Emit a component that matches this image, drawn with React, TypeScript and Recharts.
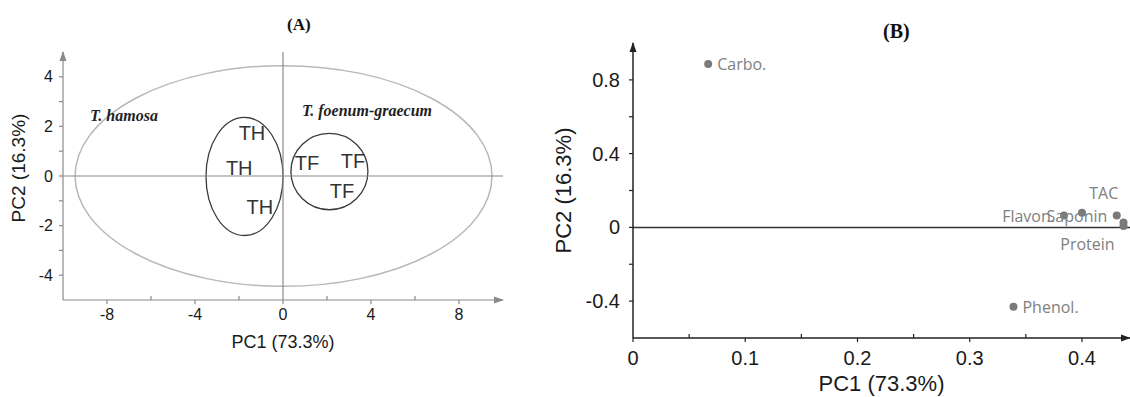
import React from 'react';
import {
  ScatterChart,
  Scatter,
  XAxis,
  YAxis,
  ReferenceLine,
  ReferenceArea,
  ReferenceDot,
} from 'recharts';

// ---------- Panel A data (PCA scores) ----------
const scoresTH = [
  { x: -1.41, y: 1.73, label: 'TH' },
  { x: -1.99, y: 0.32, label: 'TH' },
  { x: -1.05, y: -1.25, label: 'TH' },
];
const scoresTF = [
  { x: 1.09, y: 0.52, label: 'TF' },
  { x: 3.18, y: 0.6, label: 'TF' },
  { x: 2.68, y: -0.6, label: 'TF' },
];
const speciesLabels = [
  { x: -8.77, y: 2.42, label: 'T. hamosa' },
  { x: 0.86, y: 2.66, label: 'T. foenum-graecum' },
];
const ellipseAll = { x1: -9.45, x2: 9.5, y1: -4.45, y2: 4.45 };
const ellipseTH = { x1: -3.5, x2: 0.0, y1: -2.4, y2: 2.36 };
const ellipseTF = { x1: 0.36, x2: 3.86, y1: -1.36, y2: 1.72 };
const xDomainA = [-10, 10];
const yDomainA = [-5, 5];
const xTicksA = [-8, -6, -4, -2, 0, 2, 4, 6, 8];
const xLabelsA = [-8, -4, 0, 4, 8];
const yTicksA = [-4, -3, -2, -1, 0, 1, 2, 3, 4];
const yLabelsA = [-4, -2, 0, 2, 4];

// ---------- Panel B data (PCA loadings) ----------
const loadingNames = ['Carbo.', 'Phenol.', 'Flavon.', 'Saponin', 'TAC', 'Protein', ''];
const loadingPC1 = [0.067, 0.339, 0.384, 0.4, 0.431, 0.437, 0.437];
const loadingPC2 = [0.886, -0.43, 0.065, 0.08, 0.065, 0.027, 0.008];
const xDomainB = [0, 0.4428];
const yDomainB = [-0.6, 1.0];
const xTicksB = [0, 0.05, 0.1, 0.15, 0.2, 0.25, 0.3, 0.35, 0.4];
const xLabelsB = [0, 0.1, 0.2, 0.3, 0.4];
const yTicksB = [-0.4, -0.2, 0, 0.2, 0.4, 0.6, 0.8];
const yLabelsB = [-0.4, 0, 0.4, 0.8];

const loadings = loadingNames.map((name, i) => ({
  name,
  x: loadingPC1[i],
  y: loadingPC2[i],
}));

// label placement (style) for loadings
const labelPlacement: Record<string, { dx: number; dy: number; anchor: string }> = {
  'Carbo.': { dx: 9, dy: 0, anchor: 'start' },
  'Phenol.': { dx: 9, dy: 0, anchor: 'start' },
  'Flavon.': { dx: -9, dy: 1, anchor: 'end' },
  Saponin: { dx: -5, dy: 3, anchor: 'middle' },
  TAC: { dx: -13, dy: -22, anchor: 'middle' },
  Protein: { dx: -36, dy: 22, anchor: 'middle' },
  '': { dx: 0, dy: 0, anchor: 'start' },
};

const SANS = "Arial, 'Liberation Sans', sans-serif";
const SERIF = "'Times New Roman', 'Liberation Serif', serif";
const LABEL_SANS = "'Segoe UI', 'Open Sans', 'Noto Sans', sans-serif";

const isIn = (arr: number[], v: number) => arr.some((a) => Math.abs(a - v) < 1e-9);
const fmt = (v: number) => String(Number(v.toFixed(2)));

const makeXTick = (labels: number[], color: string, fontSize: number, dy: number) => (props: any) => {
  const { x, y, payload } = props;
  const v = payload.value;
  const major = isIn(labels, v);
  return (
    <g>
      <line x1={x} x2={x} y1={y} y2={y + (major ? 4 : -4)} stroke={color} strokeWidth={1.2} />
      {major && (
        <text x={x} y={y + dy} textAnchor="middle" fontFamily={SANS} fontSize={fontSize} fill="#1a1a1a">
          {fmt(v)}
        </text>
      )}
    </g>
  );
};

const makeYTick = (labels: number[], color: string, fontSize: number, gap: number) => (props: any) => {
  const { x, y, payload } = props;
  const v = payload.value;
  const major = isIn(labels, v);
  return (
    <g>
      <line x1={x} x2={x - 4} y1={y} y2={y} stroke={color} strokeWidth={1.2} />
      {major && (
        <text
          x={x - gap}
          y={y}
          textAnchor="end"
          dominantBaseline="central"
          fontFamily={SANS}
          fontSize={fontSize}
          fill="#1a1a1a"
        >
          {fmt(v)}
        </text>
      )}
    </g>
  );
};

const ellipseShape = (stroke: string, width: number) => (props: any) => {
  const { x, y, width: w, height: h } = props;
  return (
    <ellipse
      cx={x + w / 2}
      cy={y + h / 2}
      rx={Math.abs(w) / 2}
      ry={Math.abs(h) / 2}
      fill="none"
      stroke={stroke}
      strokeWidth={width}
    />
  );
};

const scoreText = (props: any) => (
  <text
    x={props.cx}
    y={props.cy}
    textAnchor="middle"
    dominantBaseline="central"
    fontFamily={SANS}
    fontSize={20}
    fill="#333"
  >
    {props.payload.label}
  </text>
);

const speciesText = (props: any) => (
  <text
    x={props.cx}
    y={props.cy}
    textAnchor="start"
    dominantBaseline="central"
    fontFamily={SERIF}
    fontStyle="italic"
    fontWeight="bold"
    fontSize={16}
    fill="#222"
  >
    {props.payload.label}
  </text>
);

const loadingDot = (props: any) => {
  const p = labelPlacement[props.payload.name] || { dx: 8, dy: 0, anchor: 'start' };
  return (
    <g>
      <circle cx={props.cx} cy={props.cy} r={4} fill="#7a7a7a" />
      {props.payload.name && (
        <text
          x={props.cx + p.dx}
          y={props.cy + p.dy}
          textAnchor={p.anchor as any}
          dominantBaseline="central"
          fontFamily={LABEL_SANS}
          fontSize={16}
          fill="#808080"
        >
          {props.payload.name}
        </text>
      )}
    </g>
  );
};

const arrowRight = (color: string) => (props: any) => (
  <path d={`M${props.cx + 1},${props.cy} l-10,-3.5 l0,7 z`} fill={color} />
);
const arrowUp = (color: string) => (props: any) => (
  <path d={`M${props.cx},${props.cy - 1} l-3.5,10 l7,0 z`} fill={color} />
);

export default function App() {
  const grayAxis = '#8a8a8a';
  const blackAxis = '#222';
  return (
    <div
      style={{
        position: 'absolute',
        left: 0,
        top: 0,
        width: 1130,
        height: 397,
        background: '#fff',
        overflow: 'hidden',
      }}
    >
      {/* Panel A */}
      <div style={{ position: 'absolute', left: 0, top: 0 }}>
        <ScatterChart width={540} height={397} margin={{ top: 52, right: 37, bottom: 37, left: 0 }}>
          <XAxis
            type="number"
            dataKey="x"
            domain={xDomainA}
            ticks={xTicksA}
            allowDataOverflow
            tickSize={0}
            tickMargin={0}
            height={60}
            axisLine={{ stroke: grayAxis, strokeWidth: 1.2 }}
            tickLine={false}
            tick={makeXTick(xLabelsA, grayAxis, 16, 20)}
            label={{
              content: (p: any) => {
                const vb = p.viewBox;
                return (
                  <text
                    x={vb.x + vb.width / 2}
                    y={vb.y + 48}
                    textAnchor="middle"
                    fontFamily={SANS}
                    fontSize={18}
                    fill="#1a1a1a"
                  >
                    PC1 (73.3%)
                  </text>
                );
              },
            }}
          />
          <YAxis
            type="number"
            dataKey="y"
            domain={yDomainA}
            ticks={yTicksA}
            allowDataOverflow
            tickSize={0}
            tickMargin={0}
            width={63}
            axisLine={{ stroke: grayAxis, strokeWidth: 1.2 }}
            tickLine={false}
            tick={makeYTick(yLabelsA, grayAxis, 16, 10)}
            label={{
              content: (p: any) => {
                const vb = p.viewBox;
                const cx = vb.x + 18;
                const cy = vb.y + vb.height / 2 - 8;
                return (
                  <text
                    x={cx}
                    y={cy}
                    transform={`rotate(-90, ${cx}, ${cy})`}
                    textAnchor="middle"
                    dominantBaseline="central"
                    fontFamily={SANS}
                    fontSize={19}
                    fill="#1a1a1a"
                  >
                    PC2 (16.3%)
                  </text>
                );
              },
            }}
          />
          <ReferenceLine x={0} stroke="#8a8a8a" strokeWidth={1.2} />
          <ReferenceLine y={0} stroke="#8a8a8a" strokeWidth={1.2} />
          <ReferenceArea {...ellipseAll} shape={ellipseShape('#b8b8b8', 1.5)} ifOverflow="visible" />
          <ReferenceArea {...ellipseTH} shape={ellipseShape('#3a3a3a', 1.3)} ifOverflow="visible" />
          <ReferenceArea {...ellipseTF} shape={ellipseShape('#3a3a3a', 1.3)} ifOverflow="visible" />
          <Scatter data={scoresTH} shape={scoreText} isAnimationActive={false} />
          <Scatter data={scoresTF} shape={scoreText} isAnimationActive={false} />
          <Scatter data={speciesLabels} shape={speciesText} isAnimationActive={false} />
          <ReferenceDot x={xDomainA[1]} y={yDomainA[0]} r={0} shape={arrowRight(grayAxis)} ifOverflow="visible" />
          <ReferenceDot x={xDomainA[0]} y={yDomainA[1]} r={0} shape={arrowUp(grayAxis)} ifOverflow="visible" />
        </ScatterChart>
        <div
          style={{
            position: 'absolute',
            left: 287,
            top: 15,
            fontFamily: SERIF,
            fontWeight: 'bold',
            fontSize: 17,
            color: '#111',
          }}
        >
          (A)
        </div>
      </div>

      {/* Panel B */}
      <div style={{ position: 'absolute', left: 540, top: 0 }}>
        <ScatterChart width={590} height={397} margin={{ top: 43, right: 0, bottom: 0, left: 0 }}>
          <XAxis
            type="number"
            dataKey="x"
            domain={xDomainB}
            ticks={xTicksB}
            allowDataOverflow
            tickSize={0}
            tickMargin={0}
            height={59}
            axisLine={{ stroke: blackAxis, strokeWidth: 1.5 }}
            tickLine={false}
            tick={makeXTick(xLabelsB, blackAxis, 20, 27)}
            label={{
              content: (p: any) => {
                const vb = p.viewBox;
                return (
                  <text
                    x={vb.x + vb.width / 2}
                    y={vb.y + 53}
                    textAnchor="middle"
                    fontFamily={SANS}
                    fontSize={22}
                    fill="#1a1a1a"
                  >
                    PC1 (73.3%)
                  </text>
                );
              },
            }}
          />
          <YAxis
            type="number"
            dataKey="y"
            domain={yDomainB}
            ticks={yTicksB}
            allowDataOverflow
            tickSize={0}
            tickMargin={0}
            width={93}
            axisLine={{ stroke: blackAxis, strokeWidth: 1.5 }}
            tickLine={false}
            tick={makeYTick(yLabelsB, blackAxis, 20, 13)}
            label={{
              content: (p: any) => {
                const vb = p.viewBox;
                const cx = vb.x + 23;
                const cy = vb.y + vb.height / 2;
                return (
                  <text
                    x={cx}
                    y={cy}
                    transform={`rotate(-90, ${cx}, ${cy})`}
                    textAnchor="middle"
                    dominantBaseline="central"
                    fontFamily={SANS}
                    fontSize={22}
                    fill="#1a1a1a"
                  >
                    PC2 (16.3%)
                  </text>
                );
              },
            }}
          />
          <ReferenceLine y={0} stroke="#333" strokeWidth={1.5} />
          <Scatter data={loadings} shape={loadingDot} isAnimationActive={false} />
          <ReferenceDot x={xDomainB[1]} y={yDomainB[0]} r={0} shape={arrowRight(blackAxis)} ifOverflow="visible" />
          <ReferenceDot x={xDomainB[0]} y={yDomainB[1]} r={0} shape={arrowUp(blackAxis)} ifOverflow="visible" />
        </ScatterChart>
        <div
          style={{
            position: 'absolute',
            left: 343,
            top: 20,
            fontFamily: SERIF,
            fontWeight: 'bold',
            fontSize: 20,
            color: '#111',
          }}
        >
          (B)
        </div>
      </div>
    </div>
  );
}
